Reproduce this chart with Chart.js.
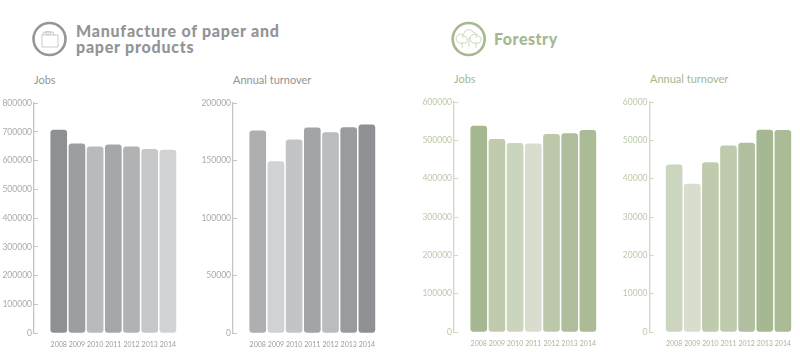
<!DOCTYPE html>
<html>
<head>
<meta charset="utf-8">
<title>Manufacture of paper and paper products, Forestry</title>
<script src="https://cdn.jsdelivr.net/npm/chart.js@4"></script>
<style>
  html, body { margin: 0; padding: 0; background: #fff; }
  body { width: 800px; height: 352px; position: relative; overflow: hidden; font-family: Lato, sans-serif; }
  canvas, svg, .head, .sub { position: absolute; }
  .head { font-weight: 900; font-size: 16px; line-height: 15.5px; letter-spacing: 0.5px; white-space: nowrap; }
  .sub { font-size: 11px; line-height: 14px; white-space: nowrap; }
  .grey { color: #939496; }
  .green { color: #a6b891; }
</style>
</head>
<body>
<svg style="left:30px;top:20px" width="40" height="40" viewBox="0 0 40 40" fill="none" stroke="#959698">
  <circle cx="19.5" cy="19" r="16" stroke-width="2.6"/>
  <path d="M12 15h16v12H12z M12 15l2-3h9l1 3" stroke-width="0.7" stroke="#b5b6b8"/>
  <ellipse cx="18" cy="13" rx="3" ry="1.4" stroke-width="0.7" stroke="#b5b6b8"/>
</svg>
<svg style="left:449px;top:20px" width="40" height="40" viewBox="0 0 40 40" fill="none" stroke="#a6b891">
  <circle cx="19.7" cy="19" r="16" stroke-width="2.6"/>
  <g stroke-width="0.7" stroke="#b9c7a8">
    <path d="M14 18a4 4 0 0 1 1-5a5 5 0 0 1 9-1a4 4 0 0 1 3 6"/>
    <path d="M8 21a4 4 0 0 1 7-5a4 4 0 0 1 2 7h-7a3 3 0 0 1-2-2z M13 23v5"/>
    <path d="M22 21a4 4 0 0 1 7-5a4 4 0 0 1 3 5a3 3 0 0 1-3 2h-5a3 3 0 0 1-2-2z M27 23v5"/>
    <path d="M20 17v10"/>
  </g>
</svg>
<div class="head grey" style="left:76px;top:23px;letter-spacing:0.75px">Manufacture of paper and<br>paper products</div>
<div class="head green" style="left:494px;top:31px">Forestry</div>
<div class="sub grey" style="left:34px;top:73px">Jobs</div>
<div class="sub grey" style="left:233px;top:73px">Annual turnover</div>
<div class="sub green" style="left:454px;top:72px">Jobs</div>
<div class="sub green" style="left:650px;top:72px">Annual turnover</div>

<canvas id="paperJobs" style="left:0;top:92px"></canvas>
<canvas id="paperTurnover" style="left:199px;top:92px"></canvas>
<canvas id="forestJobs" style="left:420px;top:91px"></canvas>
<canvas id="forestTurnover" style="left:615px;top:91px"></canvas>

<script>
const years = [2008, 2009, 2010, 2011, 2012, 2013, 2014];

const paperJobs = [706000, 658000, 648000, 655000, 648000, 639000, 636500];
const paperTurnover = [175800, 149200, 168000, 178400, 174300, 178700, 181000];
const forestJobs = [537600, 503000, 492500, 490800, 516000, 517600, 526400];
const forestTurnover = [43600, 38600, 44200, 48600, 49300, 52700, 52640];

const paperJobsColors = ["#8f9093", "#9d9ea0", "#b9babc", "#a5a6a8", "#b1b2b4", "#c6c7c9", "#d1d2d4"];
const paperTurnoverColors = ["#aeafb1", "#d1d2d4", "#c3c4c6", "#a3a4a6", "#bbbcbe", "#9a9b9d", "#8f9093"];
const forestJobsColors = ["#a6b891", "#c0cbae", "#cbd4bd", "#d8ddcd", "#bcc8a9", "#afbd9c", "#aabb96"];
const forestTurnoverColors = ["#ccd5bf", "#d8ddcd", "#c0cbae", "#c0cbae", "#b1bfa0", "#a6b891", "#aabb96"];

const paperJobsTicks = [0, 100000, 200000, 300000, 400000, 500000, 600000, 700000, 800000];
const paperTurnoverTicks = [0, 50000, 100000, 150000, 200000];
const forestJobsTicks = [0, 100000, 200000, 300000, 400000, 500000, 600000];
const forestTurnoverTicks = [0, 10000, 20000, 30000, 40000, 50000, 60000];

function makeChart(id, values, colors, yTicks, axisColor, labelColor, yearColor) {
    const canvas = document.getElementById(id);
    const axisWidth = id == "forestTurnover" ? 34.5 : 34;
    // 7px extra because the x scale keeps a margin for its last label
    canvas.width = axisWidth + 143 + 7;
    canvas.height = 260;
    return new Chart(canvas, {
        type: "bar",
        data: {
            datasets: [{
                data: years.map((y, i) => ({ x: y, y: values[i] })),
                backgroundColor: colors,
                barThickness: 16,
                borderRadius: 3,
                borderSkipped: false
            }]
        },
        options: {
            responsive: false,
            animation: false,
            layout: { autoPadding: false, padding: 0 },
            plugins: { legend: { display: false }, tooltip: { enabled: false } },
            scales: {
                x: {
                    type: "linear",
                    offset: false,
                    min: 2006.64,
                    max: 2014.5,
                    afterBuildTicks: scale => { scale.ticks = years.map(y => ({ value: y })); },
                    afterFit: scale => { scale.height = 19; },
                    grid: { display: false, drawTicks: false },
                    border: { display: false },
                    ticks: {
                        color: yearColor,
                        font: { family: "Lato", size: 7 },
                        padding: 8,
                        maxRotation: 0,
                        autoSkip: false,
                        callback: v => String(v)
                    }
                },
                y: {
                    min: 0,
                    max: yTicks[yTicks.length - 1],
                    afterBuildTicks: scale => { scale.ticks = yTicks.map(v => ({ value: v })); },
                    afterFit: scale => { scale.width = axisWidth; },
                    grid: { drawOnChartArea: false, tickLength: -4, tickWidth: 1, color: axisColor },
                    border: { color: axisColor, width: 1.3 },
                    ticks: {
                        color: labelColor,
                        font: { family: "Lato", size: 8.5 },
                        padding: 6,
                        callback: v => String(v)
                    }
                }
            }
        }
    });
}

makeChart("paperJobs", paperJobs, paperJobsColors, paperJobsTicks, "#c4c5c7", "#a9aaac", "#9c9d9f");
makeChart("paperTurnover", paperTurnover, paperTurnoverColors, paperTurnoverTicks, "#c4c5c7", "#a9aaac", "#9c9d9f");
makeChart("forestJobs", forestJobs, forestJobsColors, forestJobsTicks, "#cfd8c0", "#bcc9aa", "#a9b896");
makeChart("forestTurnover", forestTurnover, forestTurnoverColors, forestTurnoverTicks, "#cfd8c0", "#bcc9aa", "#a9b896");
</script>
</body>
</html>
